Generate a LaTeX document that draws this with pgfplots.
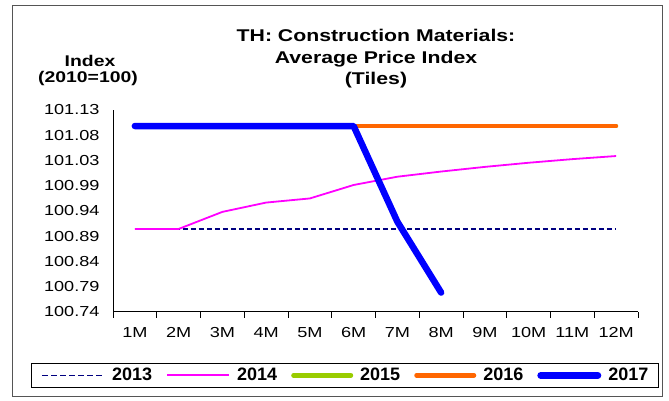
\documentclass[border=0pt]{standalone}
\usepackage{pgfplots}
\pgfplotsset{compat=1.18}
\usepackage{fontspec}
\setmainfont[FakeStretch=1.25]{Liberation Sans}
\newfontfamily\legfont{Liberation Sans}
\definecolor{c13}{HTML}{000080}
\definecolor{c14}{HTML}{FF00FF}
\definecolor{c15}{HTML}{99CC00}
\definecolor{c16}{HTML}{FF6600}
\definecolor{c17}{HTML}{0000FF}
\definecolor{frame}{HTML}{555555}
\begin{document}
\begin{tikzpicture}[x=1pt,y=1pt]
\path[use as bounding box] (0,0) rectangle (669,401);
\fill[white] (0,0) rectangle (669,401);
\draw[frame, line width=0.9pt] (12.5,5) rectangle (662.5,396);
% title
\node[anchor=base, font=\fontsize{17}{20}\selectfont\bfseries, inner sep=0] at (376,359) {TH: Construction Materials:};
\node[anchor=base, font=\fontsize{17}{20}\selectfont\bfseries, inner sep=0] at (376,337) {Average Price Index};
\node[anchor=base, font=\fontsize{17}{20}\selectfont\bfseries, inner sep=0] at (376,316) {(Tiles)};
% y label
\node[anchor=base, font=\fontsize{15.5}{18}\selectfont\bfseries, inner sep=0] at (90,334.3) {Index};
\node[anchor=base, font=\fontsize{15.5}{18}\selectfont\bfseries, inner sep=0] at (88,318.3) {(2010=100)};
\begin{axis}[
  at={(113pt,89.3pt)}, anchor=south west,
  scale only axis, width=525pt, height=201.7pt,
  xmin=0.5, xmax=12.5, ymin=100.74, ymax=101.13,
  axis x line*=bottom, axis y line*=left,
  axis line style={-, black, line width=0.8pt},
  tick align=outside,
  /pgf/number format/assume math mode=true,
  ytick={100.74,100.78875,100.8375,100.88625,100.935,100.98375,101.0325,101.08125,101.13},
  yticklabels={100.74,100.79,100.84,100.89,100.94,100.99,101.03,101.08,101.13},
  xtick={1,...,12},
  xticklabels={1M,2M,3M,4M,5M,6M,7M,8M,9M,10M,11M,12M},
  minor xtick={0.5,1.5,...,12.5},
  major tick length=0pt,
  minor tick length=6pt,
  minor tick style={black, line width=0.8pt},
  every y tick/.style={black, line width=0.8pt},
  y tick label style={font=\fontsize{14.5}{16}\selectfont, xshift=-10pt},
  x tick label style={font=\fontsize{14.5}{16}\selectfont, yshift=-12pt},
  legend columns=5,
  legend style={at={(0.4418,-0.316)}, anchor=center, draw=black, line width=0.8pt,
    font=\legfont\fontsize{18}{20}\selectfont\bfseries, inner xsep=10pt, inner ysep=3pt,
    nodes={inner xsep=0pt},
    /tikz/every odd column/.append style={column sep=7pt},
    /tikz/every even column/.append style={column sep=14pt}},
  clip=false,
]
\addplot[c13, line width=1.6pt, dash pattern=on 5.5pt off 2.5pt,
  legend image code/.code={\draw[draw=c13, line width=1.6pt, dash pattern=on 6pt off 3pt] (0pt,0pt) -- (62pt,0pt);}] coordinates {
(1,100.900)(2,100.900)(3,100.900)(4,100.900)(5,100.900)(6,100.900)
(7,100.900)(8,100.900)(9,100.900)(10,100.900)(11,100.900)(12,100.900)};
\addlegendentry{2013}
\addplot[c14, line width=1.8pt,
  legend image code/.code={\draw[draw=c14, line width=2pt] (0pt,0pt) -- (62pt,0pt);}] coordinates {
(1,100.900)(2,100.900)(3,100.933)(4,100.951)(5,100.959)(6,100.985)
(7,101.001)(8,101.011)(9,101.020)(10,101.028)(11,101.035)(12,101.041)};
\addlegendentry{2014}
\addplot[c15, line width=4pt, line cap=round,
  legend image code/.code={\draw[draw=c15, line width=4.5pt, line cap=round] (2.25pt,0pt) -- (59.75pt,0pt);}] coordinates {
(1,101.099)(2,101.099)(3,101.099)(4,101.099)(5,101.099)(6,101.099)
(7,101.099)(8,101.099)(9,101.099)(10,101.099)(11,101.099)(12,101.099)};
\addlegendentry{2015}
\addplot[c16, line width=4pt, line cap=round,
  legend image code/.code={\draw[draw=c16, line width=4.5pt, line cap=round] (2.25pt,0pt) -- (59.75pt,0pt);}] coordinates {
(1,101.099)(2,101.099)(3,101.099)(4,101.099)(5,101.099)(6,101.099)
(7,101.099)(8,101.099)(9,101.099)(10,101.099)(11,101.099)(12,101.099)};
\addlegendentry{2016}
\addplot[c17, line width=6.5pt, line cap=round, line join=round,
  legend image code/.code={\draw[draw=c17, line width=7pt, line cap=round] (3.5pt,0pt) -- (60.5pt,0pt);}] coordinates {
(1,101.099)(2,101.099)(3,101.099)(4,101.099)(5,101.099)(6,101.099)
(7,100.914)(8,100.777)};
\addlegendentry{2017}
\end{axis}
\end{tikzpicture}
\end{document}
